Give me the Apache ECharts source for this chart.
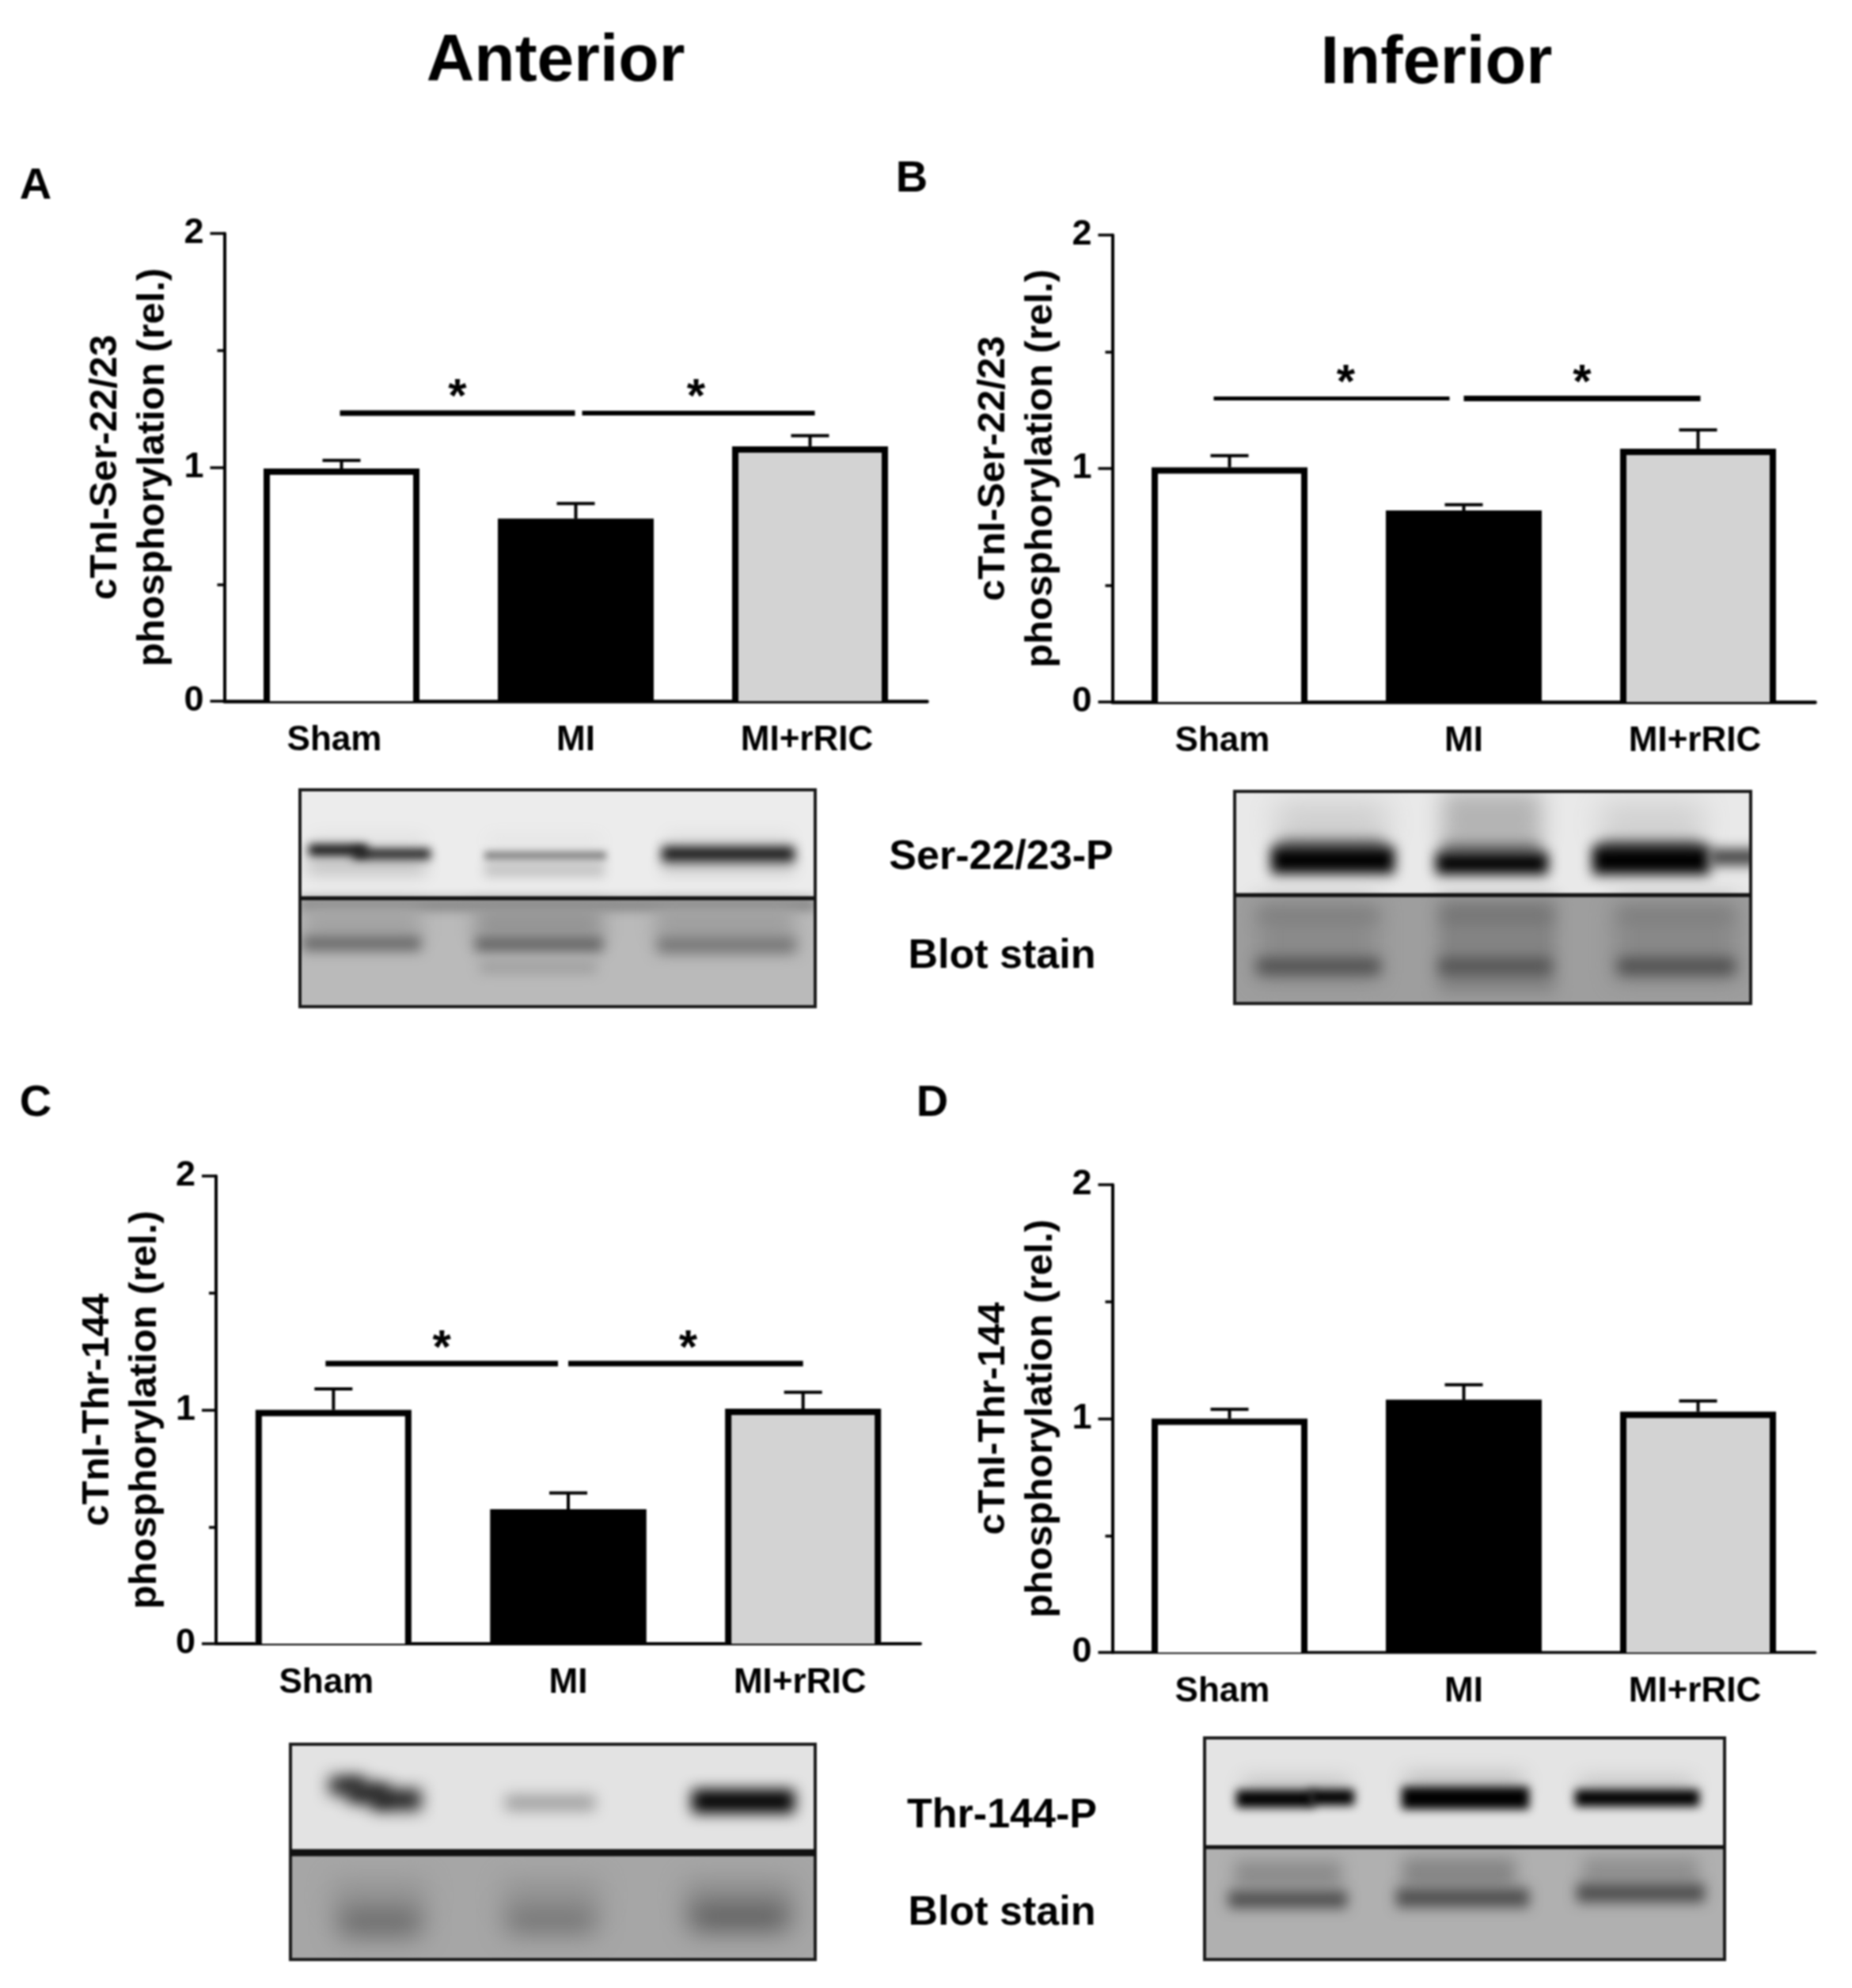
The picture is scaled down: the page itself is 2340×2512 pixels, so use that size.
<!DOCTYPE html>
<html><head><meta charset="utf-8">
<style>html,body{margin:0;padding:0;background:#fff}#c{width:2340px;height:2512px;filter:blur(1px)}</style>
<script src="https://cdn.jsdelivr.net/npm/echarts@6/dist/echarts.min.js"></script>
</head><body><div id="c"></div>
<script>
// ---------- chart values ----------
const categories = ['Sham', 'MI', 'MI+rRIC'];
const yTicks = { min: 0, max: 2, interval: 1 };

const meansA = [0.995, 0.78, 1.09];
const upperA = [1.03, 0.845, 1.135];
const meansB = [1.005, 0.82, 1.085];
const upperB = [1.055, 0.845, 1.165];
const meansC = [1.0, 0.575, 1.005];
const upperC = [1.09, 0.645, 1.075];
const meansD = [1.0, 1.08, 1.03];
const upperD = [1.04, 1.145, 1.075];

const yNameSer = 'cTnI-Ser-22/23\nphosphorylation (rel.)';
const yNameThr = 'cTnI-Thr-144\nphosphorylation (rel.)';

// significance brackets: [from category, to category, height on the y scale]
const sigA = [[0, 1, 1.232], [1, 2, 1.232]];
const sigB = [[0, 1, 1.30], [1, 2, 1.30]];
const sigC = [[0, 1, 1.198], [1, 2, 1.198]];
const sigD = [];

// ---------- layout and style ----------
const FONT = '"Liberation Sans", Arial, sans-serif';
const barColors = ['#ffffff', '#000000', '#d3d3d3'];
const BAR_W = 197, BORDER = 8;
const panels = [
  { grid: [283.5, 295, 888, 591], means: meansA, upper: upperA, sig: sigA, name: yNameSer, axisW: 4.5,
    off: [[-2, -1, 0, 7], [8, 6, -3, 6]] },
  { grid: [1405.5, 297, 888, 590], means: meansB, upper: upperB, sig: sigB, name: yNameSer, axisW: 4.5,
    off: [[-20, -18, 18, 5], [0, 3, 0, 7]] },
  { grid: [273, 1486, 890, 591], means: meansC, upper: upperC, sig: sigC, name: yNameThr, axisW: 4,
    off: [[-10, -13, 0, 7], [0, 0, 3, 7]] },
  { grid: [1405.5, 1497, 888, 591], means: meansD, upper: upperD, sig: sigD, name: yNameThr, axisW: 3.5, off: [] }
];

// Western-blot images, approximated with blurred shapes
// band = [x1, x2, centre y, height, colour, blur]
const blots = [
  { x0: 379, x1: 1030, top: 998, mid: 1135, bottom: 1272, midW: 5, upBg: '#ececec', loBg: '#bababa',
    up: [[394,535,1062,10,'#dadada',10],[616,760,1062,10,'#e2e2e2',10],[842,1000,1060,10,'#d8d8d8',10],
         [388,538,1094,22,'#c2c2c2',10],[390,464,1074,14,'#0c0c0c',6],[446,544,1079,13,'#1c1c1c',6],
         [612,764,1099,18,'#c4c4c4',7],[612,766,1081,10,'#7c7c7c',5],
         [836,1004,1094,18,'#c6c6c6',9],[836,1004,1079,19,'#141414',7]],
    lo: [[379,1030,1143,14,'#808080',7],
         [384,532,1165,36,'#a2a2a2',12],[600,762,1165,36,'#929292',12],[828,1004,1165,36,'#9e9e9e',12],
         [382,532,1192,18,'#666666',8],[600,762,1193,18,'#606060',8],[830,1006,1194,20,'#707070',9],
         [606,754,1222,14,'#9c9c9c',8]] },
  { x0: 1560, x1: 2212, top: 1000, mid: 1131, bottom: 1268, midW: 5, upBg: '#e9e9e9', loBg: '#9e9e9e',
    up: [[1612,1752,1040,52,'#cecece',18],[1822,1948,1035,70,'#b4b4b4',14],[2022,2152,1040,52,'#d0d0d0',18],
         [1615,1750,1068,16,'#707070',9],[1822,1946,1072,16,'#707070',9],[2022,2150,1070,16,'#707070',9],
         [1606,1762,1087,34,'#000000',8],[1814,1956,1091,28,'#000000',8],[2012,2160,1087,36,'#000000',8],
         [2160,2225,1083,20,'#3c3c3c',8]],
    lo: [[1590,1740,1190,100,'#8b8b8b',14],[1818,1965,1195,120,'#848484',10],[2040,2195,1190,100,'#898989',14],
         [1590,1742,1157,14,'#7c7c7c',10],[1822,1960,1157,16,'#727272',10],[2045,2190,1157,14,'#7c7c7c',10],
         [1588,1744,1221,20,'#4e4e4e',9],[1818,1960,1221,20,'#525252',9],[2044,2192,1221,20,'#4c4c4c',9]] },
  { x0: 367, x1: 1030, top: 2204, mid: 2341, bottom: 2476, midW: 9, upBg: '#e3e3e3', loBg: '#a6a6a6',
    up: [[416,460,2256,22,'#1c1c1c',10],[440,490,2266,24,'#1c1c1c',10],[470,532,2274,26,'#1c1c1c',10],
         [638,752,2278,20,'#a0a0a0',9],
         [874,1004,2276,30,'#000000',9]],
    lo: [[420,538,2395,44,'#979797',16],[636,758,2395,44,'#969696',16],[866,1002,2395,44,'#929292',16],
         [428,532,2428,36,'#6a6a6a',16],[640,752,2426,32,'#727272',16],[872,996,2422,34,'#5c5c5c',16]] },
  { x0: 1522, x1: 2179, top: 2196, mid: 2334, bottom: 2476, midW: 5, upBg: '#e4e4e4', loBg: '#b0b0b0',
    up: [[1570,1704,2258,22,'#c0c0c0',12],[1775,1925,2254,26,'#bcbcbc',12],[1995,2140,2258,22,'#c0c0c0',12],
         [1562,1660,2273,22,'#000000',6],[1655,1711,2271,20,'#000000',6],
         [1771,1932,2272,28,'#000000',6],[1990,2147,2272,21,'#000000',6]],
    lo: [[1560,1695,2368,34,'#8c8c8c',10],[1772,1915,2366,38,'#868686',10],[2000,2146,2364,34,'#909090',10],
         [1552,1702,2400,22,'#505050',8],[1764,1932,2398,24,'#505050',8],[1992,2154,2392,24,'#505050',8]] }
];

const textLabels = [
  ['Anterior', 702, 79, 84], ['Inferior', 1815, 82, 85],
  ['A', 45, 236, 56], ['B', 1152, 227, 56], ['C', 45, 1395, 56], ['D', 1178, 1395, 56],
  ['Ser-22/23-P', 1265, 1084, 52], ['Blot stain', 1266, 1209, 52],
  ['Thr-144-P', 1266, 2295, 52], ['Blot stain', 1266, 2418, 52]
];

// ---------- blurred shapes ----------
const OFF = 4000;
function blurred(b) {
  return { type: 'rect', silent: true,
    shape: { x: b[0] - OFF, y: b[2] - b[3] / 2, width: b[1] - b[0], height: b[3] },
    style: { fill: '#000', shadowColor: b[4], shadowBlur: b[5] * 2, shadowOffsetX: OFF } };
}
function plain(x, y, w, h, fill) {
  return { type: 'rect', silent: true, shape: { x, y, width: w, height: h }, style: { fill } };
}
const graphics = [];
blots.forEach(b => {
  const w = b.x1 - b.x0;
  graphics.push(plain(b.x0, b.top, w, b.mid - b.top, b.upBg));
  b.up.forEach(u => graphics.push(blurred(u)));
  graphics.push(plain(b.x0, b.mid, w, b.bottom - b.mid, b.loBg));
  b.lo.forEach(u => graphics.push(blurred(u)));
  // white margin hides blur spilling out of the frame
  graphics.push(plain(b.x0 - 60, b.top - 40, w + 120, 40, '#fff'));
  graphics.push(plain(b.x0 - 60, b.bottom, w + 120, 40, '#fff'));
  graphics.push(plain(b.x0 - 60, b.top, 60, b.bottom - b.top, '#fff'));
  graphics.push(plain(b.x1, b.top, 60, b.bottom - b.top, '#fff'));
  graphics.push({ type: 'rect', silent: true, shape: { x: b.x0, y: b.top, width: w, height: b.bottom - b.top },
    style: { fill: null, stroke: '#1a1a1a', lineWidth: 4 } });
  graphics.push({ type: 'line', silent: true, shape: { x1: b.x0, y1: b.mid, x2: b.x1, y2: b.mid },
    style: { stroke: '#111', lineWidth: b.midW } });
});
textLabels.forEach(t => graphics.push({ type: 'text', silent: true, x: t[1], y: t[2],
  style: { text: t[0], align: 'center', verticalAlign: 'middle', fill: '#000',
           font: 'bold ' + t[3] + 'px ' + FONT } }));

// ---------- series ----------
// open outline of the bar (the base sits on the axis) plus the error whisker
function errorItem(params, api) {
  const top = api.coord([api.value(0), api.value(2)]);
  const bar = api.coord([api.value(0), api.value(1)]);
  const base = api.coord([api.value(0), 0]);
  const s = { stroke: '#000', lineWidth: 4, fill: null };
  const inset = BAR_W / 2 - BORDER / 2;
  return { type: 'group', children: [
    { type: 'polyline', shape: { points: [[bar[0] - inset, base[1]], [bar[0] - inset, bar[1] + BORDER / 2],
        [bar[0] + inset, bar[1] + BORDER / 2], [bar[0] + inset, base[1]]] },
      style: { stroke: '#000', lineWidth: BORDER, fill: null } },
    { type: 'line', shape: { x1: top[0], y1: top[1], x2: bar[0], y2: bar[1] }, style: s },
    { type: 'line', shape: { x1: top[0] - 24, y1: top[1], x2: top[0] + 24, y2: top[1] }, style: s }
  ] };
}
function bracketItem(off) {
  return function (params, api) {
    const a = api.coord([api.value(0), api.value(2)]);
    const b = api.coord([api.value(1), api.value(2)]);
    const o = off[params.dataIndex];
    const x1 = a[0] + o[0], x2 = b[0] + o[1];
    return { type: 'group', children: [
      { type: 'line', shape: { x1, y1: a[1], x2, y2: a[1] }, style: { stroke: '#000', lineWidth: o[3] } },
      { type: 'text', x: (x1 + x2) / 2 + o[2], y: a[1] - 18,
        style: { text: '*', align: 'center', verticalAlign: 'middle', fill: '#000',
                 font: 'bold 60px ' + FONT } }
    ] };
  };
}

const grid = [], xAxis = [], yAxis = [], series = [];
panels.forEach((p, i) => {
  grid.push({ left: p.grid[0], top: p.grid[1], width: p.grid[2], height: p.grid[3] });
  const labelRich = { fontFamily: FONT, fontWeight: 'bold', fontSize: 44, color: '#000' };
  xAxis.push({ type: 'category', gridIndex: i, data: categories,
    axisLine: { lineStyle: { color: '#000', width: p.axisW } }, axisTick: { show: false },
    axisLabel: { color: '#000', fontFamily: FONT, fontWeight: 'bold', fontSize: 44, margin: 28,
      interval: 0,
      formatter: v => v === 'Sham' ? '{s|Sham}' : (v === 'MI+rRIC' ? '{r|MI+rRIC}' : v),
      rich: { s: Object.assign({ padding: [0, 18, 0, 0] }, labelRich),
              r: Object.assign({ padding: [0, 8, 0, 0] }, labelRich) } } });
  yAxis.push({ type: 'value', gridIndex: i, min: yTicks.min, max: yTicks.max, interval: yTicks.interval,
    name: p.name, nameLocation: 'middle', nameRotate: 90, nameGap: 60,
    nameTextStyle: { color: '#000', fontFamily: FONT, fontWeight: 'bold', fontSize: 49, lineHeight: 60 },
    splitLine: { show: false },
    axisLine: { show: true, lineStyle: { color: '#000', width: 4 } },
    axisTick: { show: true, length: 18, lineStyle: { color: '#000', width: 3.5 } },
    minorTick: { show: true, splitNumber: 2, length: 9, lineStyle: { color: '#000', width: 3.5 } },
    axisLabel: { color: '#000', fontFamily: FONT, fontWeight: 'bold', fontSize: 45, margin: 26,
                 padding: [6, 0, 0, 0] } });
  series.push({ type: 'bar', xAxisIndex: i, yAxisIndex: i, barWidth: BAR_W, silent: true,
    data: p.means.map((v, k) => ({ value: v, itemStyle: { color: barColors[k] } })) });
  series.push({ type: 'custom', xAxisIndex: i, yAxisIndex: i, silent: true, clip: false, z: 3,
    encode: { x: 0, y: 2 }, renderItem: errorItem,
    data: p.means.map((v, k) => [k, v, p.upper[k]]) });
  if (p.sig.length) series.push({ type: 'custom', xAxisIndex: i, yAxisIndex: i, silent: true, clip: false, z: 3,
    encode: { x: 0, y: 2 }, renderItem: bracketItem(p.off), data: p.sig });
});

const chart = echarts.init(document.getElementById('c'), null, { width: 2340, height: 2512 });
chart.setOption({ animation: false, backgroundColor: '#fff', grid, xAxis, yAxis, series,
  graphic: { elements: graphics } });
</script></body></html>
